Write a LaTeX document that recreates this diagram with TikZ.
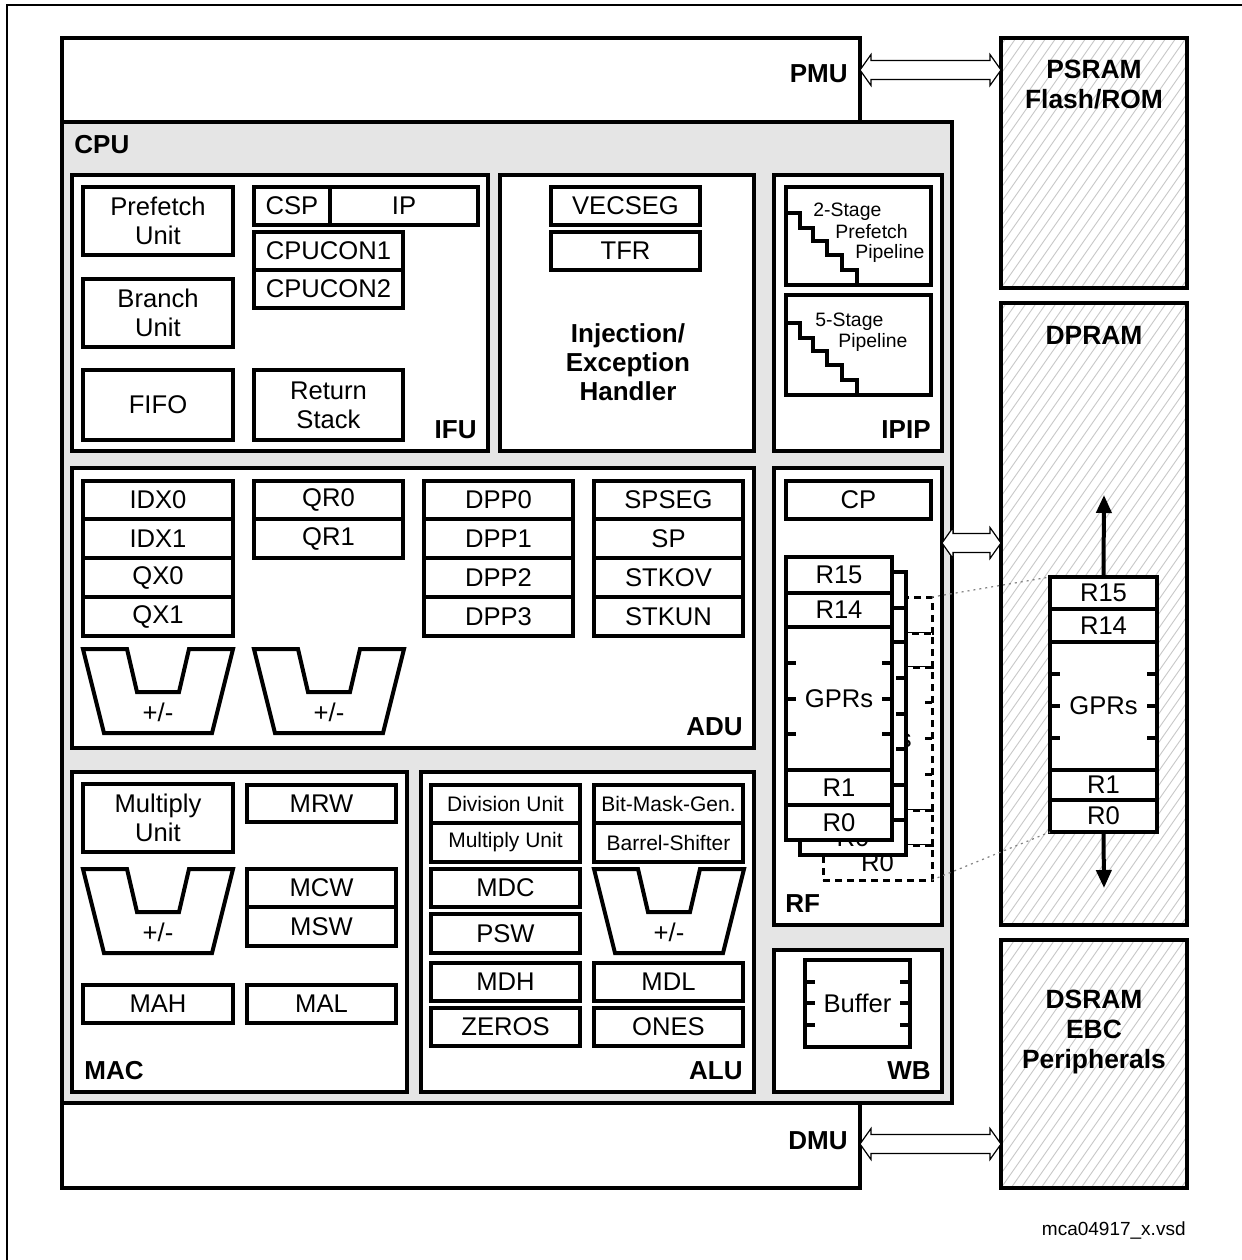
\documentclass[tikz,border=0pt]{standalone}
\usepackage{fontspec}
\setmainfont{Liberation Sans}
\usetikzlibrary{arrows.meta}
\definecolor{cpugrey}{RGB}{229,229,229}
\definecolor{hatchgrey}{RGB}{200,200,200}
\tikzset{
 blk/.style={draw, line width=2pt, fill=white, inner sep=0pt, outer sep=0pt, align=center, font=\fontsize{12.8}{14.5}\selectfont},
 rb/.style={},
 sml/.style={font=\fontsize{10.5}{12}\selectfont},
 ttl/.style={font=\bfseries\fontsize{13}{15}\selectfont, inner sep=0pt, align=center},
 txt/.style={font=\fontsize{12.8}{14.5}\selectfont, inner sep=0pt},
 pipetxt/.style={font=\fontsize{9.7}{11}\selectfont, inner sep=0pt, anchor=west},
 thk/.style={line width=2pt},
 hatchline/.style={draw=hatchgrey, line width=0.45pt},
 hollow/.style={draw, line width=0.6pt, fill=white, line join=miter},
 guide/.style={draw=gray, line width=0.6pt, dash pattern=on 1pt off 2pt},
 frameline/.style={line width=0.75pt},
 darrow/.style={line width=2pt, -{Triangle[length=9pt,width=7.5pt]}},
}
\newcommand\bx[7][]{\node[blk,minimum width={(#5-#3)*0.5pt},minimum height={(#6-#4)*0.5pt},#1] (#2) at ({(#3+#5)/2},{(#4+#6)/2}) {#7};}
\newcommand\adder[3]{\draw[thk, fill=white] (#2,#3) -- ++(44,0) -- ++(10,43) -- ++(42,0) -- ++(10,-43) -- ++(44,0) -- ++(-21,84) -- ++(-108,0) -- cycle;
 \node[txt] (#1) at ({#2+75},{#3+63}) {+/-};}
% labels of the rows are taken from \rA \rB \rG \rC \rD
\newcommand\regstack[9]{%
 \bx[rb]{#1a}{#2}{#4}{#3}{#5}{\rA}
 \bx[rb]{#1b}{#2}{#5}{#3}{#6}{\rB}
 \bx[rb]{#1g}{#2}{#6}{#3}{#7}{\rG}
 \bx[rb]{#1c}{#2}{#7}{#3}{#8}{\rC}
 \bx[rb]{#1d}{#2}{#8}{#3}{#9}{\rD}
 \foreach \q in {1,2,3}{\draw[thk,rb] (#2,{#6+\q*(#7-#6)/4}) -- ++(10,0); \draw[thk,rb] (#3,{#6+\q*(#7-#6)/4}) -- ++(-10,0);}
}
\newcommand\alllabels{\def\rA{R15}\def\rB{R14}\def\rG{GPRs}\def\rC{R1}\def\rD{R0}}
\newcommand\hatchbox[5]{%
 \bx{#1}{#2}{#3}{#4}{#5}{}
 \begin{scope}
 \clip (#2,#3) rectangle (#4,#5);
 \pgfmathsetmacro\hh{#5-#3}
 \foreach \k in {-70,...,20}{\draw[hatchline] ({#2+10*\k},#5) -- ++({0.7*\hh},{-\hh});}
 \end{scope}
 \draw[thk] (#1.north west) rectangle (#1.south east);
}
\newcommand\dblarrow[2]{\draw[hollow] (#1) -- ++(11,-15.5) -- ++(0,6) -- ++(#2,0) -- ++(0,-6) -- ++(11,15.5) -- ++(-11,15.5) -- ++(0,-6) -- ++(-#2,0) -- ++(0,6) -- cycle;}
\begin{document}
\begin{tikzpicture}[x=0.5pt,y=-0.5pt]
\useasboundingbox (0,0) rectangle (1242,1260);
% thin frame
\coordinate (ftl) at (7,5);
\coordinate (ftr) at (1242,5);
\coordinate (fbl) at (7,1260);
\draw[frameline] (ftr) -- (ftl) -- (fbl);

% outer PMU/DMU box and CPU
\bx{outer}{62}{38}{860}{1188}{}
\bx[fill=cpugrey]{cpu}{62}{122}{952}{1103}{}
\node[ttl, anchor=east] (pmu) at (848,74) {PMU};
\node[ttl, anchor=east] (dmu) at (848,1141) {DMU};
\node[ttl, anchor=west] (cpulbl) at (74,145) {CPU};

% memories
\hatchbox{psram}{1001}{38}{1187}{288}
\node[ttl, font=\bfseries\fontsize{13.2}{15}\selectfont] (psramt) at (1094,85) {PSRAM\\Flash/ROM};
\hatchbox{dpram}{1001}{303}{1187}{925}
\node[ttl, font=\bfseries\fontsize{13.2}{15}\selectfont] (dpramt) at (1094,335) {DPRAM};
\hatchbox{dsram}{1001}{940}{1187}{1188}
\node[ttl, font=\bfseries\fontsize{13.2}{15}\selectfont] (dsramt) at (1094,1032) {DSRAM\\EBC\\Peripherals};

% IFU
\bx{ifu}{72}{175}{488}{451}{}
\node[ttl, anchor=east] (ifut) at (477,430) {IFU};
\bx{pref}{83}{187}{233}{255}{Prefetch\\Unit}
\bx{csp}{254}{187}{330}{225}{CSP}
\bx{ip}{330}{187}{478}{225}{IP}
\bx{cpucon1}{254}{232}{403}{270}{CPUCON1}
\bx{cpucon2}{254}{270}{403}{308}{CPUCON2}
\bx{branch}{83}{279}{233}{347}{Branch\\Unit}
\bx{fifo}{83}{370}{233}{440}{FIFO}
\bx{rstack}{254}{370}{403}{440}{Return\\Stack}

% Injection / Exception
\bx{inj}{500}{175}{754}{451}{}
\bx{vecseg}{551}{187}{700}{225}{VECSEG}
\bx{tfr}{551}{232}{700}{270}{TFR}
\node[ttl, font=\bfseries\fontsize{13}{14.5}\selectfont] (injt) at (628,362) {Injection/\\Exception\\Handler};

% IPIP
\bx{ipip}{774}{175}{942}{451}{}
\node[ttl, anchor=east] (ipipt) at (931,430) {IPIP};
\bx{pipe2}{786}{187}{931}{285}{}
\draw[thk] (787,213) -- (800,213) -- (800,228) -- (813,228) -- (813,241) -- (827,241) -- (827,255) -- (842,255) -- (842,270) -- (857,270) -- (857,285);
\node[pipetxt] (p2a) at (813,212) {2-Stage};
\node[pipetxt] (p2b) at (835,232) {Prefetch};
\node[pipetxt] (p2c) at (855,253) {Pipeline};
\bx{pipe5}{786}{295}{931}{395}{}
\draw[thk] (787,323) -- (800,323) -- (800,338) -- (813,338) -- (813,351) -- (827,351) -- (827,365) -- (842,365) -- (842,380) -- (857,380) -- (857,395);
\node[pipetxt] (p5a) at (815,322) {5-Stage};
\node[pipetxt] (p5b) at (838,342) {Pipeline};

% ADU
\bx{adu}{72}{468}{754}{748}{}
\node[ttl, anchor=east] (adut) at (743,727) {ADU};
\bx{idx0}{83}{481}{233}{519}{IDX0}
\bx{idx1}{83}{519}{233}{558}{IDX1}
\bx{qx0}{83}{558}{233}{597}{QX0}
\bx{qx1}{83}{597}{233}{636}{QX1}
\bx{qr0}{254}{481}{403}{519}{QR0}
\bx{qr1}{254}{519}{403}{558}{QR1}
\bx{dpp0}{424}{481}{573}{519}{DPP0}
\bx{dpp1}{424}{519}{573}{558}{DPP1}
\bx{dpp2}{424}{558}{573}{597}{DPP2}
\bx{dpp3}{424}{597}{573}{636}{DPP3}
\bx{spseg}{594}{481}{743}{519}{SPSEG}
\bx{sp}{594}{519}{743}{558}{SP}
\bx{stkov}{594}{558}{743}{597}{STKOV}
\bx{stkun}{594}{597}{743}{636}{STKUN}
\adder{adda}{83}{649}
\adder{addb}{254}{649}

% MAC
\bx{mac}{72}{772}{407}{1092}{}
\node[ttl, anchor=west] (mact) at (84,1071) {MAC};
\bx{mulu}{83}{784}{233}{852}{Multiply\\Unit}
\bx{mrw}{247}{785}{396}{822}{MRW}
\adder{addm}{83}{869}
\bx{mcw}{247}{869}{396}{907}{MCW}
\bx{msw}{247}{907}{396}{946}{MSW}
\bx{mah}{83}{985}{233}{1023}{MAH}
\bx{mal}{247}{985}{396}{1023}{MAL}

% ALU
\bx{alu}{421}{772}{754}{1092}{}
\node[ttl, anchor=east] (alut) at (743,1071) {ALU};
\bx[sml]{divu}{431}{785}{580}{823}{Division Unit}
\bx[sml]{mula}{431}{823}{580}{862}{Multiply Unit}
\bx[sml]{bmg}{594}{785}{743}{823}{Bit-Mask-Gen.}
\bx[sml]{bsh}{594}{823}{743}{862}{Barrel-Shifter}
\bx{mdc}{431}{869}{580}{907}{MDC}
\bx{psw}{431}{914}{580}{953}{PSW}
\adder{addl}{594}{869}
\bx{mdh}{431}{963}{580}{1001}{MDH}
\bx{mdl}{594}{963}{743}{1001}{MDL}
\bx{zeros}{431}{1008}{580}{1046}{ZEROS}
\bx{ones}{594}{1008}{743}{1046}{ONES}

% RF: three stacked register banks (only the visible labels of the rear ones)
\bx{rf}{774}{468}{942}{925}{}
\node[ttl, anchor=west] (rft) at (785,904) {RF};
\bx{cp}{786}{481}{931}{519}{CP}
\begin{scope}[rb/.style={line width=1.5pt, dash pattern=on 3.5pt off 2.5pt}]
\def\rA{}\def\rB{}\def\rG{GPRs}\def\rC{}\def\rD{R0}
\regstack{t}{823}{932}{597}{633}{667}{810}{845}{880}
\end{scope}
\def\rA{}\def\rB{}\def\rG{}\def\rC{}\def\rD{R0}
\regstack{s}{800}{906}{572}{608}{642}{785}{820}{855}
\alllabels
\regstack{f}{786}{892}{557}{593}{627}{770}{805}{840}

% WB
\bx{wb}{774}{950}{942}{1092}{}
\node[ttl, anchor=east] (wbt) at (931,1071) {WB};
\bx{buf}{805}{960}{910}{1047}{Buffer}
\foreach \q in {982,1003,1025}{\draw[thk] (805,\q) -- ++(10,0); \draw[thk] (910,\q) -- ++(-10,0);}

% hollow double arrows
\coordinate (a1l) at (860,70);
\coordinate (a2l) at (942,543);
\coordinate (a3l) at (860,1144);
\dblarrow{a1l}{119}
\dblarrow{a2l}{37}
\dblarrow{a3l}{119}

% DPRAM register view
\alllabels
\regstack{d}{1050}{1157}{577}{609}{642}{770}{800}{832}
\draw[guide] (ta.north east) -- (da.north west);
\draw[guide] (td.south east) -- (dd.south west);
\coordinate (dpup) at (1104,495);
\coordinate (dpdn) at (1104,888);
\draw[darrow] (da.north) -- (dpup);
\draw[darrow] (dd.south) -- (dpdn);

% file name
\node[font=\fontsize{9.5}{11}\selectfont, inner sep=0pt, anchor=base east] (fname) at (1186,1235) {mca04917\_x.vsd};
\end{tikzpicture}
\end{document}
